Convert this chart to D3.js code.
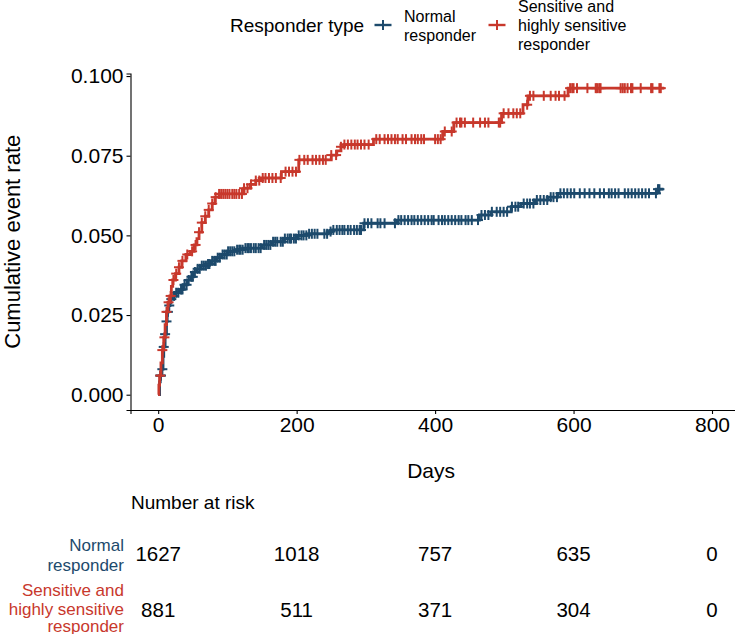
<!DOCTYPE html>
<html>
<head>
<meta charset="utf-8">
<script src="https://cdn.jsdelivr.net/npm/d3@7"></script>
<style>
  html, body { margin: 0; padding: 0; background: #fff; }
  svg { display: block; font-family: "Liberation Sans", Arial, sans-serif; }
</style>
</head>
<body>
<svg id="chart" width="735" height="634"></svg>
<script>
// ---------------- DATA ----------------
const groups = ["Normal responder", "Sensitive and highly sensitive responder"];
const groupLabelLines = [["Normal", "responder"], ["Sensitive and", "highly sensitive", "responder"]];
const colors = ["#1d4a6c", "#c8382c"];

// step points [day, cumulative event rate]
const normalSteps = [
  [0,0],[2,0.004],[3,0.006],[5,0.008],[7,0.012],[8,0.015],[10,0.019],[12,0.023],[13,0.026],
  [15,0.028],[17,0.030],[20,0.031],[25,0.032],[30,0.033],[36,0.0345],[42,0.036],[47,0.037],
  [51,0.0385],[56,0.0395],[61,0.0405],[70,0.041],[76,0.042],[84,0.043],[92,0.044],[100,0.045],
  [112,0.0455],[124,0.046],[150,0.047],[165,0.048],[182,0.049],[200,0.050],[215,0.0505],
  [245,0.0512],[252,0.0517],[297,0.0538],[345,0.0548],[464,0.0564],[481,0.0574],[510,0.059],
  [524,0.060],[544,0.0611],[563,0.062],[577,0.0632],[720,0.0645],[730,0.0645]
];
const sensitiveSteps = [
  [0,0],[1,0.003],[2,0.006],[4,0.010],[6,0.014],[8,0.018],[10,0.022],[12,0.026],[14,0.029],
  [17,0.031],[19,0.034],[21,0.036],[25,0.038],[30,0.040],[34,0.042],[40,0.044],[46,0.045],
  [52,0.047],[56,0.049],[59,0.051],[63,0.054],[68,0.056],[73,0.058],[78,0.060],[82,0.062],
  [88,0.063],[124,0.0648],[133,0.066],[141,0.0672],[148,0.068],[178,0.070],[203,0.0737],
  [250,0.0752],[258,0.0765],[264,0.0778],[268,0.0785],[311,0.0802],[411,0.0826],[427,0.0854],
  [496,0.0883],[527,0.091],[534,0.0938],[592,0.0962],[731,0.0962]
];

// censoring times (days)
const normalCensor = [
  3,4,6,8,10,12,14,16,19,23,26,29,33,35,38,41,44,48,50,53,57,60,63,66,69,72,74,78,
  81,83,86,89,93,96,99,101,104,107,110,114,117,119,122,126,129,131,134,138,141,145,148,
  153,156,159,162,166,169,172,177,180,183,187,190,192,196,199,203,207,210,214,218,222,
  226,230,240,244,249,253,258,262,266,269,274,278,283,287,291,293,298,303,308,317,321,
  327,342,347,351,356,361,366,370,375,380,385,390,395,398,405,410,414,419,424,429,434,
  438,444,448,453,462,467,472,477,482,489,494,499,504,511,516,520,528,533,537,542,547,
  552,557,562,567,571,576,581,586,591,596,601,609,616,623,630,638,644,651,655,660,665,
  674,679,684,689,694,699,704,709,719,722,724
];
const sensitiveCensor = [
  3,6,9,12,15,18,22,26,30,35,42,49,54,59,63,68,73,78,83,88,91,94,97,100,103,107,110,
  113,117,121,124,129,134,141,146,151,155,160,165,170,177,184,189,194,199,204,211,216,
  223,228,233,238,242,250,257,264,269,274,279,284,288,293,298,304,315,320,327,332,337,
  342,346,353,358,366,371,375,380,384,400,404,408,414,424,431,436,438,443,455,465,472,
  477,492,494,499,506,513,518,523,533,537,542,557,567,574,579,587,595,598,600,605,620,
  632,634,637,639,668,671,674,678,683,685,697,712,714,724,726
];

const xTicks = [0, 200, 400, 600, 800];
const yTicks = [0, 0.025, 0.05, 0.075, 0.1];
const riskNormal = [1627, 1018, 757, 635, 0];
const riskSensitive = [881, 511, 371, 304, 0];

// ---------------- LAYOUT ----------------
const svg = d3.select("#chart");
const font = "Liberation Sans, Arial, sans-serif";

const x = d3.scaleLinear().domain([-40, 840]).range([130.5, 739.7]);
const y = d3.scaleLinear().domain([-0.0048, 0.1008]).range([410, 73.5]);

// axes
const yAxis = svg.append("g").attr("transform", `translate(${x.range()[0]},0)`)
  .call(d3.axisLeft(y).tickValues(yTicks).tickFormat(d3.format(".3f")).tickSize(4).tickPadding(3));
const xAxis = svg.append("g").attr("transform", `translate(0,${y.range()[0]})`)
  .call(d3.axisBottom(x).tickValues(xTicks).tickFormat(d3.format("d")).tickSize(4).tickPadding(3));
[yAxis, xAxis].forEach(g => {
  g.select(".domain").attr("stroke", "#000").attr("stroke-width", 1.1);
  g.selectAll(".tick line").attr("stroke", "#000").attr("stroke-width", 1.1);
  g.selectAll(".tick text").attr("fill", "#000").style("font-size", "21px").style("font-family", font);
});

// axis titles
svg.append("text").attr("x", (x.range()[0] + x.range()[1]) / 2 - 4).attr("y", 478)
  .attr("text-anchor", "middle").style("font-size", "21px").style("font-family", font).text("Days");
svg.append("text").attr("transform", `translate(20,${(y.range()[0] + y.range()[1]) / 2}) rotate(-90)`)
  .attr("text-anchor", "middle").style("font-size", "22px").style("font-family", font).text("Cumulative event rate");

// curves
const stepData = [normalSteps, sensitiveSteps];
const censorData = [normalCensor, sensitiveCensor];
const line = d3.line().x(d => x(d[0])).y(d => y(d[1])).curve(d3.curveStepAfter);
function valueAt(steps, t) {
  let v = 0;
  for (const s of steps) { if (s[0] <= t) v = s[1]; else break; }
  return v;
}
[0, 1].forEach(i => {
  const g = svg.append("g");
  g.append("path").datum(stepData[i]).attr("d", line)
    .attr("fill", "none").attr("stroke", colors[i]).attr("stroke-width", 2.8);
  const marks = g.selectAll("g.m").data(censorData[i]).enter().append("g")
    .attr("transform", d => `translate(${x(d)},${y(valueAt(stepData[i], d))})`);
  marks.append("line").attr("x1", 0).attr("x2", 0).attr("y1", -5).attr("y2", 5)
    .attr("stroke", colors[i]).attr("stroke-width", 2);
  marks.append("line").attr("x1", -5).attr("x2", 5).attr("y1", 0).attr("y2", 0)
    .attr("stroke", colors[i]).attr("stroke-width", 2);
});

// legend
svg.append("text").attr("x", 230).attr("y", 32).style("font-size", "19px").style("font-family", font).text("Responder type");
const legendKeys = [{kx: 383, tx: 404, ty: [16, 35]}, {kx: 497, tx: 518, ty: [6, 25, 44]}];
[0, 1].forEach(i => {
  const k = legendKeys[i];
  svg.append("line").attr("x1", k.kx - 8.5).attr("x2", k.kx + 8.5).attr("y1", 25).attr("y2", 25)
    .attr("stroke", colors[i]).attr("stroke-width", 2.4);
  svg.append("line").attr("x1", k.kx).attr("x2", k.kx).attr("y1", 20).attr("y2", 30)
    .attr("stroke", colors[i]).attr("stroke-width", 2);
  groupLabelLines[i].forEach((t, j) => {
    svg.append("text").attr("x", k.tx).attr("y", k.ty[j] + 6)
      .style("font-size", "16px").style("font-family", font).text(t);
  });
});

// risk table
svg.append("text").attr("x", 131).attr("y", 509).style("font-size", "19px").style("font-family", font).text("Number at risk");
const riskRows = [riskNormal, riskSensitive];
const rowY = [554, 610];
const rowLabelY = [[546, 566], [591, 610, 627]];
[0, 1].forEach(i => {
  svg.selectAll(null).data(riskRows[i]).enter().append("text")
    .attr("x", (d, j) => x(xTicks[j])).attr("y", rowY[i] + 7)
    .attr("text-anchor", "middle").style("font-size", "20.5px").style("font-family", font)
    .text(d => d);
  groupLabelLines[i].forEach((t, j) => {
    svg.append("text").attr("x", 124).attr("y", rowLabelY[i][j] + 5)
      .attr("text-anchor", "end").attr("fill", colors[i])
      .style("font-size", "17px").style("font-family", font).text(t);
  });
});
</script>
</body>
</html>
